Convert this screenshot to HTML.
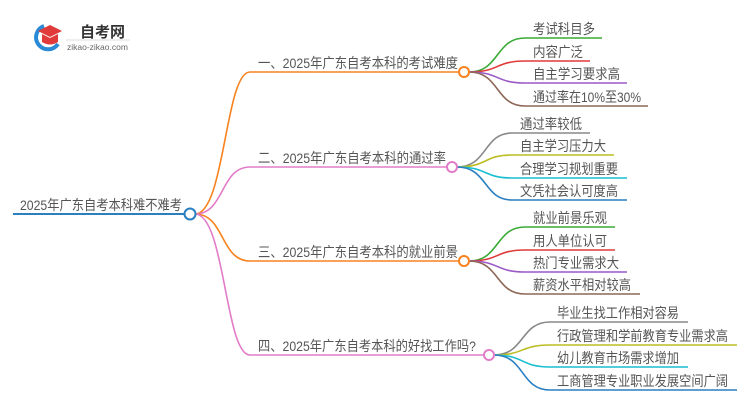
<!DOCTYPE html>
<html><head><meta charset="utf-8"><style>
html,body{margin:0;padding:0;background:#fff;width:750px;height:410px;overflow:hidden}
text{font-family:"Liberation Sans","Noto Sans CJK SC",sans-serif;font-size:14px;fill:#555}
</style></head><body>
<svg width="750" height="410" viewBox="0 0 750 410" xmlns="http://www.w3.org/2000/svg">
<!-- logo -->
<path d="M44 26 A12 12 0 1 0 58 44" fill="none" stroke="#2a8ad6" stroke-width="4"/>
<path d="M38 31 L50 25 L62 31 L50 37 Z" fill="#e03a3a"/>
<path d="M42 34 L42 42 Q50 47 58 42 L58 34 L50 38 Z" fill="#e03a3a"/>
<text x="80" y="37" style="font-size:15px;font-weight:bold;fill:#333">自考网</text>
<line x1="66" y1="40" x2="130" y2="40" stroke="#ddd" stroke-width="1"/>
<text x="67" y="50" style="font-size:8.5px;fill:#666">zikao-zikao.com</text>

<!-- root -->
<line x1="13" y1="214" x2="185" y2="214" stroke="#2a7fc1" stroke-width="2"/>
<text x="20" y="210" textLength="162" lengthAdjust="spacingAndGlyphs">2025年广东自考本科难不难考</text>

<!-- main branches -->
<g fill="none" stroke-width="1.6">
<path d="M195 214 C225 214 225 72 250 72 L460 72" stroke="#f7821e"/>
<path d="M195 214 C225 214 220 167 250 167 L447 167" stroke="#e27cc8"/>
<path d="M195 214 C225 214 220 261 250 261 L460 261" stroke="#f7821e"/>
<path d="M195 214 C225 214 225 355 250 355 L484 355" stroke="#e27cc8"/>
</g>
<circle cx="190" cy="214" r="5.5" fill="#fff" stroke="#2a7fc1" stroke-width="2"/>
<text x="258" y="68" textLength="200" lengthAdjust="spacingAndGlyphs">一、2025年广东自考本科的考试难度</text>
<text x="258" y="163" textLength="188" lengthAdjust="spacingAndGlyphs">二、2025年广东自考本科的通过率</text>
<text x="258" y="257" textLength="200" lengthAdjust="spacingAndGlyphs">三、2025年广东自考本科的就业前景</text>
<text x="258" y="351" textLength="218" lengthAdjust="spacingAndGlyphs">四、2025年广东自考本科的好找工作吗?</text>

<!-- branch 1 leaves -->
<g fill="none" stroke-width="1.6">
<path d="M469 72 C500 72 495 38 525 38 L602 38" stroke="#3aaa35"/>
<path d="M469 72 C500 72 495 61 525 61 L590 61" stroke="#e03a3a"/>
<path d="M469 72 C500 72 495 83 525 83 L627 83" stroke="#9b59c6"/>
<path d="M469 72 C500 72 495 106 525 106 L648 106" stroke="#8d6656"/>
<path d="M457 167 C488 167 483 133 512 133 L590 133" stroke="#888"/>
<path d="M457 167 C488 167 483 155 512 155 L614 155" stroke="#bcbd22"/>
<path d="M457 167 C488 167 483 178 512 178 L627 178" stroke="#17becf"/>
<path d="M457 167 C488 167 483 200 512 200 L627 200" stroke="#2a7fc1"/>
<path d="M469 261 C500 261 495 227 525 227 L615 227" stroke="#3aaa35"/>
<path d="M469 261 C500 261 495 250 525 250 L615 250" stroke="#e03a3a"/>
<path d="M469 261 C500 261 495 272 525 272 L627 272" stroke="#9b59c6"/>
<path d="M469 261 C500 261 495 294 525 294 L640 294" stroke="#8d6656"/>
<path d="M494 355 C525 355 520 322 550 322 L688 322" stroke="#888"/>
<path d="M494 355 C525 355 520 345 550 345 L737 345" stroke="#bcbd22"/>
<path d="M494 355 C525 355 520 367 550 367 L688 367" stroke="#17becf"/>
<path d="M494 355 C525 355 520 390 550 390 L737 390" stroke="#2a7fc1"/>
</g>
<circle cx="464" cy="72" r="5" fill="#fff" stroke="#f7821e" stroke-width="2"/>
<circle cx="452" cy="167" r="5" fill="#fff" stroke="#e27cc8" stroke-width="2"/>
<circle cx="464" cy="261" r="5" fill="#fff" stroke="#f7821e" stroke-width="2"/>
<circle cx="489" cy="355" r="5" fill="#fff" stroke="#e27cc8" stroke-width="2"/>

<text x="533" y="34" textLength="62" lengthAdjust="spacingAndGlyphs">考试科目多</text>
<text x="533" y="57" textLength="50" lengthAdjust="spacingAndGlyphs">内容广泛</text>
<text x="533" y="79" textLength="87" lengthAdjust="spacingAndGlyphs">自主学习要求高</text>
<text x="533" y="102" textLength="108" lengthAdjust="spacingAndGlyphs">通过率在10%至30%</text>
<text x="520" y="129" textLength="62" lengthAdjust="spacingAndGlyphs">通过率较低</text>
<text x="520" y="151" textLength="86" lengthAdjust="spacingAndGlyphs">自主学习压力大</text>
<text x="520" y="174" textLength="98" lengthAdjust="spacingAndGlyphs">合理学习规划重要</text>
<text x="520" y="196" textLength="98" lengthAdjust="spacingAndGlyphs">文凭社会认可度高</text>
<text x="533" y="223" textLength="74" lengthAdjust="spacingAndGlyphs">就业前景乐观</text>
<text x="533" y="246" textLength="74" lengthAdjust="spacingAndGlyphs">用人单位认可</text>
<text x="533" y="268" textLength="86" lengthAdjust="spacingAndGlyphs">热门专业需求大</text>
<text x="533" y="290" textLength="98" lengthAdjust="spacingAndGlyphs">薪资水平相对较高</text>
<text x="557" y="318" textLength="122" lengthAdjust="spacingAndGlyphs">毕业生找工作相对容易</text>
<text x="557" y="341" textLength="171" lengthAdjust="spacingAndGlyphs">行政管理和学前教育专业需求高</text>
<text x="557" y="363" textLength="122" lengthAdjust="spacingAndGlyphs">幼儿教育市场需求增加</text>
<text x="557" y="386" textLength="171" lengthAdjust="spacingAndGlyphs">工商管理专业职业发展空间广阔</text>
</svg>
</body></html>
